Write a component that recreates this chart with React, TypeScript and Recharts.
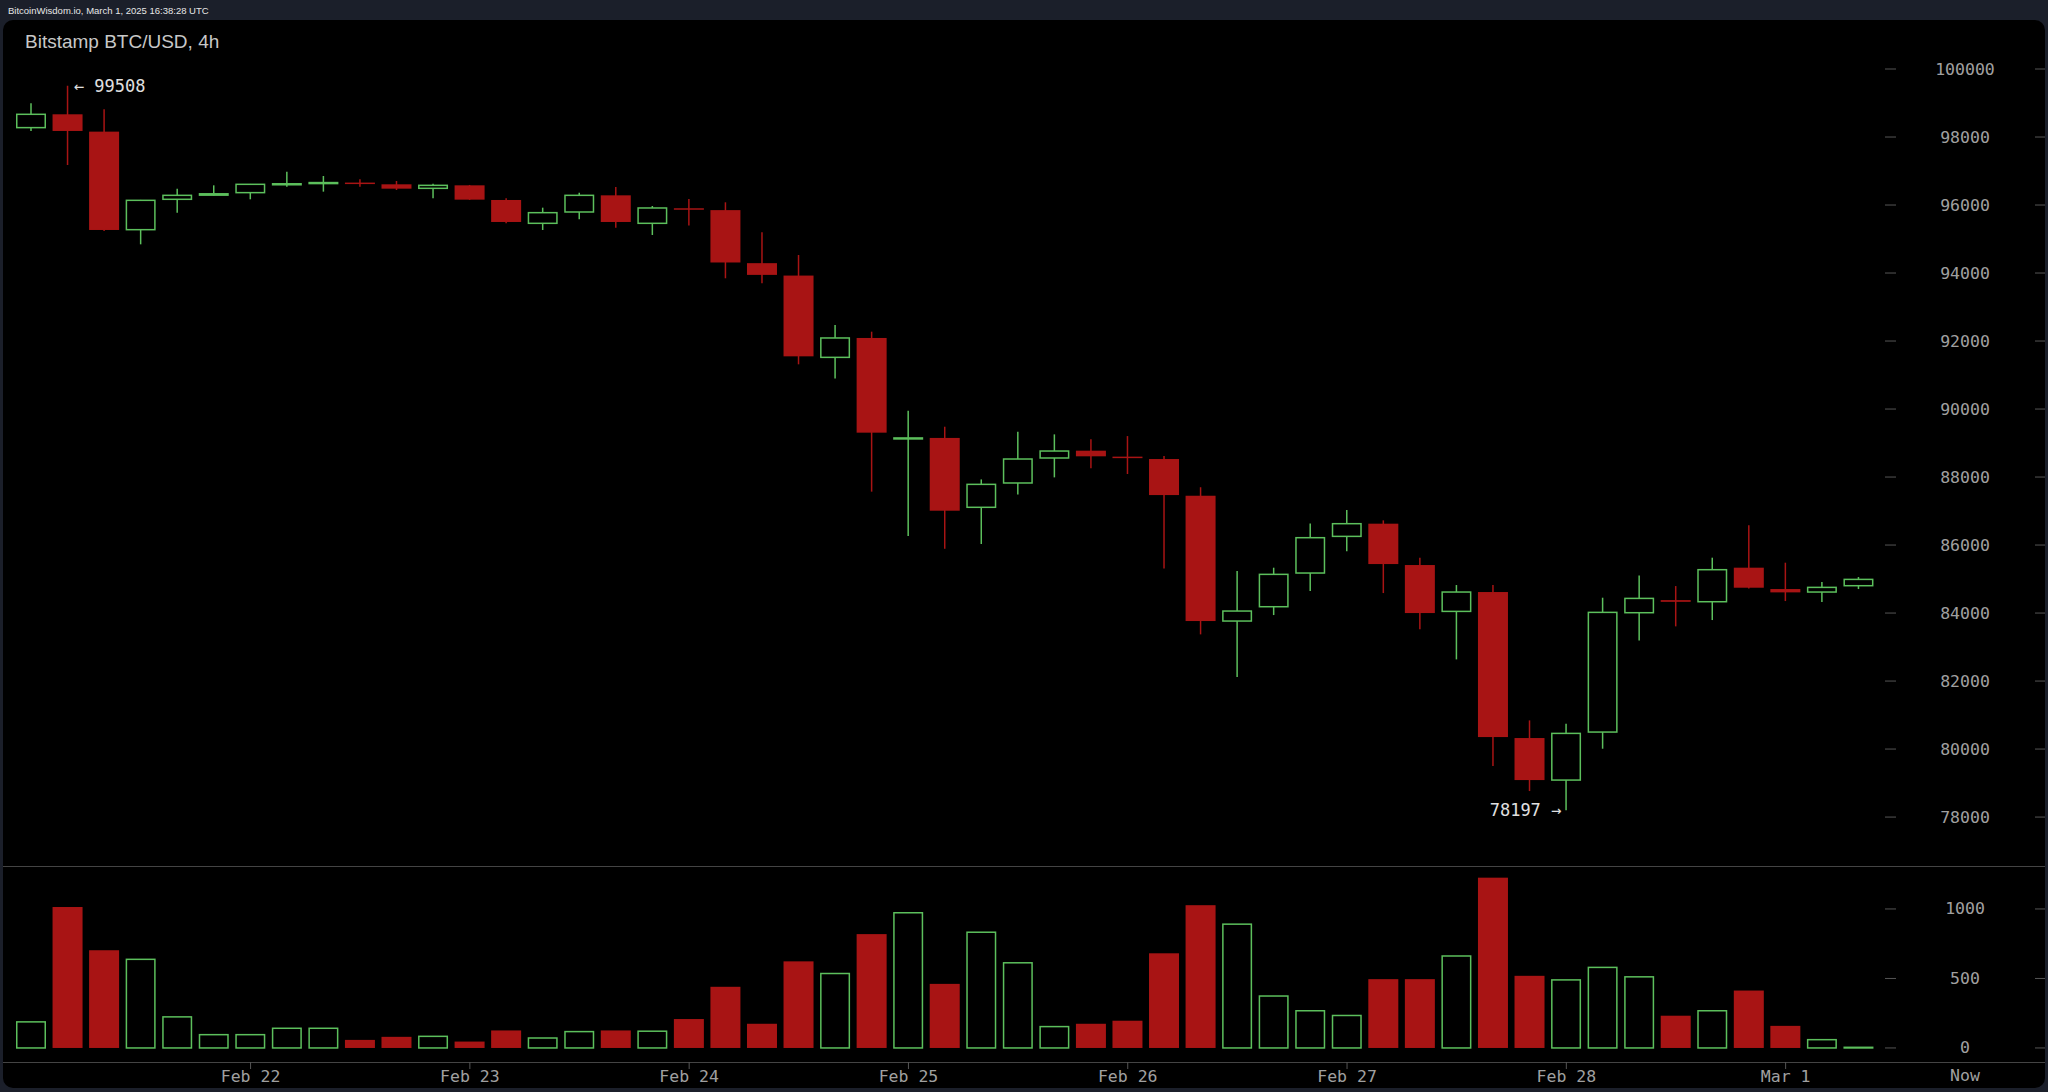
import { Bar, BarChart, ComposedChart, ReferenceDot, XAxis, YAxis } from 'recharts';

// Bitstamp BTC/USD 4h candles, Feb 21 00:00 -> Mar 1 08:00
const opens = [
  98276, 98668, 98158, 95275, 96168, 96290, 96364, 96600, 96640, 96660,
  96609, 96491, 96579, 96148, 95462, 95795, 96285, 95462, 95905, 95850,
  94290, 93925, 91520, 92090, 89125, 89150, 87110, 87825, 88560, 88775,
  88600, 88530, 87450, 83765, 84186, 85177, 86255, 86628, 85412, 84049,
  84618, 80324, 79088, 80500, 84010, 84380, 84333, 85334, 84706, 84618,
  84804,
];
const highs = [
  98990, 99508, 98815, 96150, 96481, 96579, 96620, 96981, 96854, 96756,
  96707, 96629, 96590, 96197, 95922, 96364, 96530, 95972, 96180, 96080,
  95200, 94530, 92470, 92275, 89950, 89480, 87930, 89335, 89255, 89110,
  89205, 88620, 87700, 85236, 85334, 86637, 87030, 86726, 85628, 84824,
  84824, 80843, 80745, 84451, 85108, 84794, 85628, 86579, 85481, 84912,
  85059,
];
const lows = [
  98178, 97177, 95236, 94844, 95775, 96270, 96168, 96540, 96393, 96540,
  96442, 96197, 96150, 95462, 95266, 95579, 95334, 95119, 95395, 93845,
  93700, 91315, 90895, 87570, 86265, 85890, 86030, 87490, 87990, 88255,
  88090, 85310, 83373, 82118, 83941, 84647, 85814, 84588, 83520, 82637,
  79500, 78765, 78197, 80010, 83196, 83608, 83794, 84720, 84353, 84324,
  84706,
];
const closes = [
  98668, 98178, 95266, 96138, 96285, 96330, 96609, 96625, 96660, 96640,
  96481, 96579, 96158, 95501, 95775, 96285, 95501, 95913, 95885, 94310,
  93945, 91550, 92090, 89305, 89150, 87010, 87785, 88530, 88765, 88610,
  88570, 87470, 83765, 84059, 85138, 86216, 86628, 85441, 84000, 84618,
  80353, 79088, 80461, 84020, 84431, 84330, 85275, 84745, 84608, 84755,
  84990,
];
const volumes = [
  193, 1014, 703, 643, 229, 101, 101, 147, 147, 58,
  80, 89, 46, 126, 77, 123, 126, 126, 208, 440,
  174, 623, 541, 819, 978, 461, 838, 618, 159, 174,
  196, 681, 1027, 896, 379, 273, 239, 495, 495, 667,
  1225, 519, 495, 585, 517, 232, 273, 413, 159, 65,
  10,
];

const priceTicks = [78000, 80000, 82000, 84000, 86000, 88000, 90000, 92000, 94000, 96000, 98000, 100000];
const volumeTicks = [0, 500, 1000];
const dayTickIndex = [6, 12, 18, 24, 30, 36, 42, 48];
const dayLabels = ['Feb 22', 'Feb 23', 'Feb 24', 'Feb 25', 'Feb 26', 'Feb 27', 'Feb 28', 'Mar 1'];

const UP = '#5cbf5c';
const DOWN = '#a81414';
const AXIS_TEXT = '#a0a0a0';
const MONO = '"DejaVu Sans Mono", monospace';
const SANS = '"Liberation Sans", Arial, sans-serif';

const candles = opens.map((open, i) => ({
  i,
  open,
  high: highs[i],
  low: lows[i],
  close: closes[i],
  range: [lows[i], highs[i]],
  volume: volumes[i],
  up: closes[i] >= open,
}));

const hiIdx = highs.indexOf(Math.max(...highs));
const loIdx = lows.indexOf(Math.min(...lows));

const Candle = (props: any) => {
  const { x, y, width, height, payload } = props;
  const top = Math.min(y, y + height);
  const span = Math.abs(height);
  const { open, close, high, low, up } = payload;
  const k = high === low ? 0 : span / (high - low);
  const py = (p: number) => top + (high - p) * k;
  const bodyTop = py(Math.max(open, close));
  const bodyBot = py(Math.min(open, close));
  const cx = x + width / 2;

  if (up) {
    return (
      <g>
        <line x1={cx} x2={cx} y1={top} y2={bodyTop} stroke={UP} strokeWidth={1.5} />
        <line x1={cx} x2={cx} y1={bodyBot} y2={top + span} stroke={UP} strokeWidth={1.5} />
        <rect
          x={x + 0.75}
          y={bodyTop}
          width={width - 1.5}
          height={Math.max(bodyBot - bodyTop, 1)}
          fill="#000"
          stroke={UP}
          strokeWidth={1.5}
        />
      </g>
    );
  }
  return (
    <g>
      <line x1={cx} x2={cx} y1={top} y2={top + span} stroke={DOWN} strokeWidth={1.5} />
      <rect x={x} y={bodyTop} width={width} height={Math.max(bodyBot - bodyTop, 1.5)} fill={DOWN} />
    </g>
  );
};

const VolumeBar = (props: any) => {
  const { x, y, width, height, payload } = props;
  if (payload.up) {
    return (
      <rect
        x={x + 0.75}
        y={y + 0.75}
        width={width - 1.5}
        height={Math.max(height - 0.75, 0.5)}
        fill="none"
        stroke={UP}
        strokeWidth={1.5}
      />
    );
  }
  return <rect x={x} y={y} width={width} height={height} fill={DOWN} />;
};

const ValueTick = (props: any) => {
  const { x, y, payload } = props;
  return (
    <g>
      <line x1={x + 8} x2={x + 19} y1={y} y2={y} stroke="#555" />
      <text
        x={x + 88}
        y={y}
        textAnchor="middle"
        dominantBaseline="central"
        fill={AXIS_TEXT}
        fontFamily={MONO}
        fontSize={16.5}
      >
        {payload.value}
      </text>
      <line x1={x + 158} x2={x + 168} y1={y} y2={y} stroke="#555" />
    </g>
  );
};

const DayTick = (props: any) => {
  const { x, y, payload } = props;
  const label = dayLabels[dayTickIndex.indexOf(payload.value)];
  return (
    <g>
      <line x1={x} x2={x} y1={y} y2={y + 7} stroke="#555" />
      <text
        x={x}
        y={y + 14}
        textAnchor="middle"
        dominantBaseline="central"
        fill={AXIS_TEXT}
        fontFamily={MONO}
        fontSize={16.5}
      >
        {label}
      </text>
    </g>
  );
};

const HighMark = (props: any) => (
  <text
    x={props.cx + 6}
    y={props.cy}
    dominantBaseline="central"
    fill="#e0e0e0"
    fontFamily={MONO}
    fontSize={17}
  >
    {'\u2190 ' + highs[hiIdx]}
  </text>
);

const LowMark = (props: any) => (
  <text
    x={props.cx - 5}
    y={props.cy}
    textAnchor="end"
    dominantBaseline="central"
    fill="#e0e0e0"
    fontFamily={MONO}
    fontSize={17}
  >
    {lows[loIdx] + ' \u2192'}
  </text>
);

export default function App() {
  return (
    <div
      style={{
        position: 'fixed',
        left: 0,
        top: 0,
        width: 2048,
        height: 1092,
        background: '#1b1f2a',
        overflow: 'hidden',
      }}
    >
      <div
        style={{
          position: 'absolute',
          left: 8,
          top: 5,
          fontFamily: SANS,
          fontSize: 9.5,
          lineHeight: '12px',
          color: '#e6e6e6',
          whiteSpace: 'nowrap',
        }}
      >
        BitcoinWisdom.io, March 1, 2025 16:38:28 UTC
      </div>
      <div
        style={{
          position: 'absolute',
          left: 3,
          top: 20,
          width: 2042,
          height: 1068,
          background: '#000',
          borderRadius: 10,
        }}
      />
      <div style={{ position: 'absolute', left: 3, top: 866, width: 2042, height: 1, background: '#444' }} />
      <div style={{ position: 'absolute', left: 3, top: 1062, width: 2042, height: 1, background: '#444' }} />

      <div style={{ position: 'absolute', left: 0, top: 0 }}>
        <ComposedChart
          width={2048}
          height={870}
          data={candles}
          margin={{ top: 21, right: 0, bottom: 2, left: 13 }}
        >
          <XAxis dataKey="i" type="category" hide />
          <YAxis
            orientation="right"
            width={171}
            domain={[76502, 101412]}
            allowDataOverflow
            ticks={priceTicks}
            interval={0}
            tick={(p: any) => <ValueTick {...p} />}
            tickSize={0}
            tickMargin={0}
            axisLine={false}
            tickLine={false}
          />
          <Bar dataKey="range" barSize={30} shape={Candle} isAnimationActive={false} />
          <ReferenceDot x={hiIdx} y={highs[hiIdx]} r={1} shape={HighMark} />
          <ReferenceDot x={loIdx} y={lows[loIdx]} r={1} shape={LowMark} />
        </ComposedChart>
      </div>

      <div style={{ position: 'absolute', left: 0, top: 866 }}>
        <BarChart
          width={2048}
          height={226}
          data={candles}
          margin={{ top: 0, right: 0, bottom: 0, left: 13 }}
        >
          <XAxis
            dataKey="i"
            type="category"
            ticks={dayTickIndex}
            interval={0}
            height={30}
            tick={(p: any) => <DayTick {...p} />}
            tickSize={0}
            tickMargin={0}
            axisLine={false}
            tickLine={false}
          />
          <YAxis
            orientation="right"
            width={171}
            domain={[-101, 1309]}
            allowDataOverflow
            ticks={volumeTicks}
            interval={0}
            tick={(p: any) => <ValueTick {...p} />}
            tickSize={0}
            tickMargin={0}
            axisLine={false}
            tickLine={false}
          />
          <Bar dataKey="volume" barSize={30} shape={VolumeBar} isAnimationActive={false} />
        </BarChart>
      </div>

      <div
        style={{
          position: 'absolute',
          left: 25,
          top: 31.5,
          fontFamily: SANS,
          fontSize: 19,
          lineHeight: '19px',
          color: '#c8c8c8',
          whiteSpace: 'nowrap',
        }}
      >
        Bitstamp BTC/USD, 4h
      </div>
      <div
        style={{
          position: 'absolute',
          left: 1925,
          top: 1067,
          width: 80,
          textAlign: 'center',
          fontFamily: MONO,
          fontSize: 16.5,
          lineHeight: '18px',
          color: AXIS_TEXT,
        }}
      >
        Now
      </div>
    </div>
  );
}
